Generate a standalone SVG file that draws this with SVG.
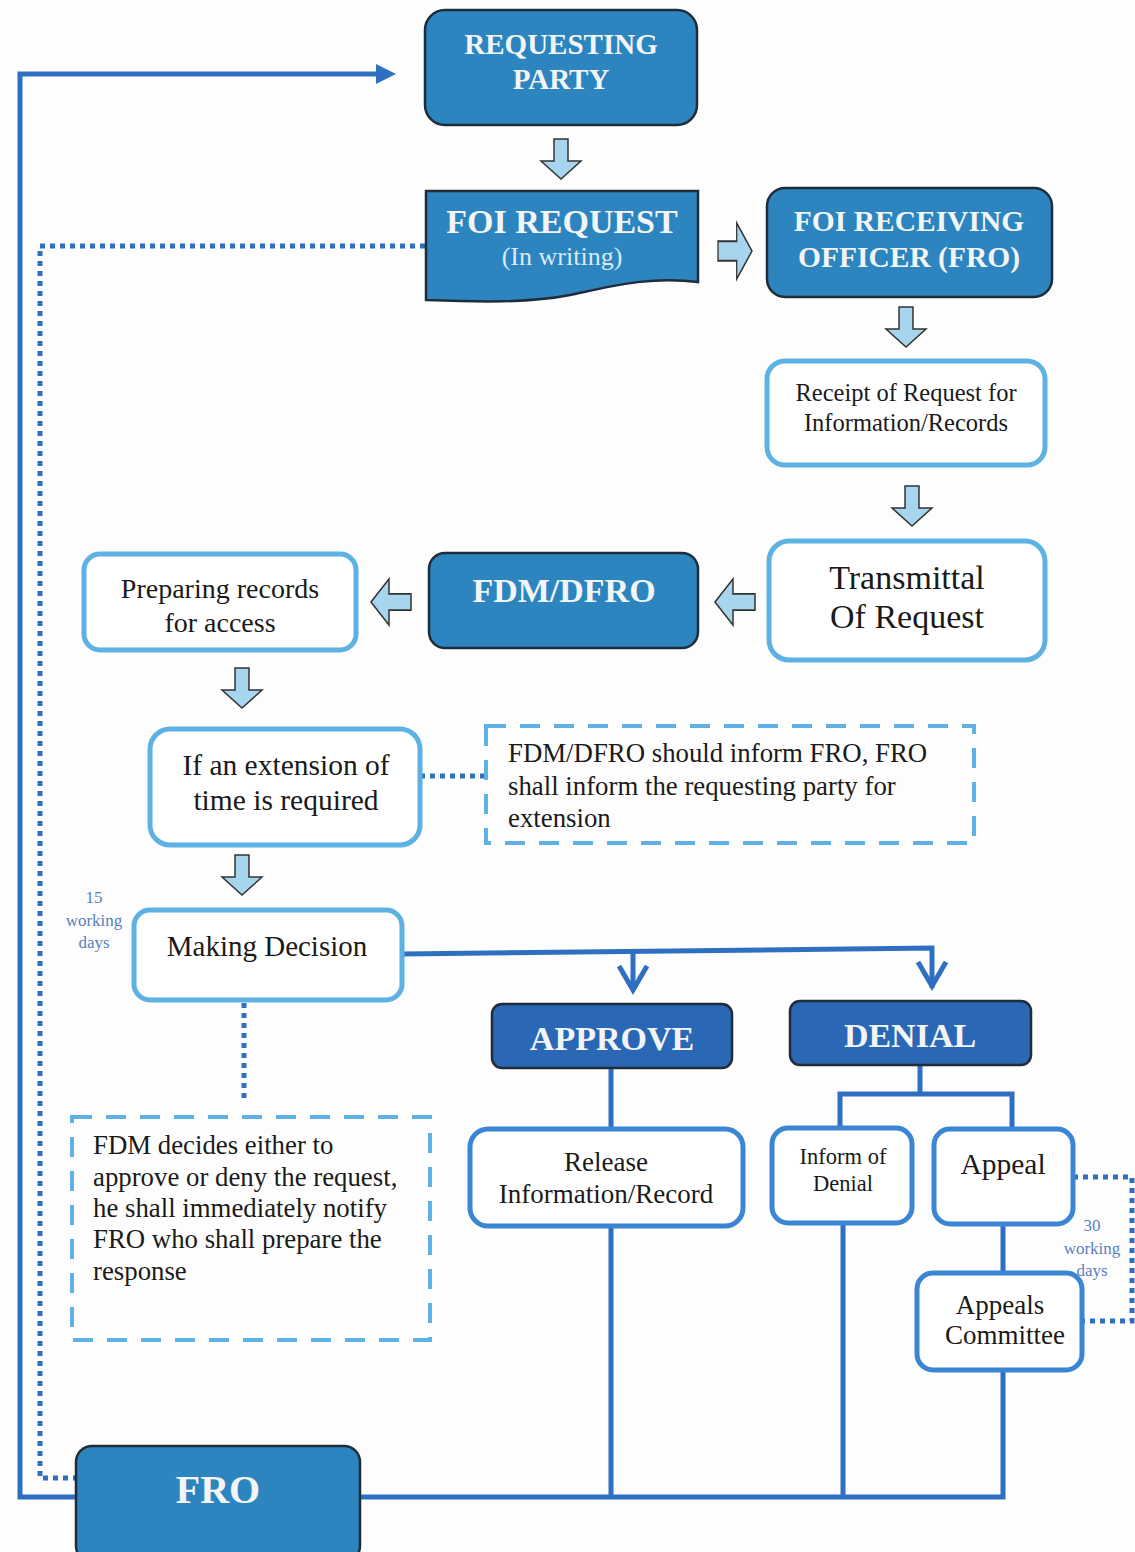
<svg xmlns="http://www.w3.org/2000/svg" width="1135" height="1552" viewBox="0 0 1135 1552">
<style>
.dark{fill:#2c85bf;stroke:#1f2d3a;stroke-width:2.5}
.royal{fill:#2a68b6;stroke:#1f2d3a;stroke-width:2.5}
.light{fill:#ffffff;stroke:#5db2e3;stroke-width:5}
.mid{fill:#ffffff;stroke:#3a85d4;stroke-width:5}
.dash{fill:none;stroke:#5db2e3;stroke-width:4;stroke-dasharray:20 14}
.wt{font-family:"Liberation Serif",serif;font-weight:bold;fill:#f2f4f6;text-anchor:middle}
.bt{font-family:"Liberation Serif",serif;fill:#1a1a1a;text-anchor:middle}
.lt{font-family:"Liberation Serif",serif;fill:#1a1a1a}
.sm{font-family:"Liberation Serif",serif;fill:#5a7fbf;text-anchor:middle;font-size:17px}
.ln{fill:none;stroke:#2f6fc2;stroke-width:5}
.dot{fill:none;stroke:#2f6fc2;stroke-width:5;stroke-dasharray:5 5}
.ba{fill:#a8d5ee;stroke:#333;stroke-width:1.5}
</style>
<defs>
<path id="da" d="M-7,0 H7 V22 H20 L0,40 L-20,22 H-7 Z"/>
</defs>
<rect width="1135" height="1552" fill="#fdfdfd"/>

<g id="connectors">
<path class="ln" d="M1003,1370 V1497 H20 V74 H380"/>
<path d="M376,64 L396,74 L376,84 Z" fill="#2f6fc2"/>
<path class="ln" d="M611,1226 V1497"/>
<path class="ln" d="M843,1223 V1497"/>
<path class="ln" d="M402,954 L932,948 V988"/>
<path class="ln" d="M633,951 V990"/>
<path class="ln" d="M619,966 L633,990 L647,966"/>
<path class="ln" d="M918,962 L932,986 L946,962"/>
<path class="ln" d="M611,1068 V1130"/>
<path class="ln" d="M920,1065 V1094 M840,1128 V1094 H1012 V1128"/>
<path class="ln" d="M1003,1224 V1272"/>
<path class="dot" d="M425,246 H40 V1478 H76"/>
<path class="dot" d="M420,776 H487"/>
<path class="dot" d="M244,1003 V1100"/>
<path class="dot" d="M1073,1177 H1132 V1321 H1082"/>
<use href="#da" class="ba" transform="translate(561,139)"/>
<use href="#da" class="ba" transform="translate(718,251) rotate(-90) scale(1.4,0.85)"/>
<use href="#da" class="ba" transform="translate(906,307)"/>
<use href="#da" class="ba" transform="translate(912,486)"/>
<use href="#da" class="ba" transform="translate(755,602) rotate(90) scale(1.15,1)"/>
<use href="#da" class="ba" transform="translate(411,602) rotate(90) scale(1.15,1)"/>
<use href="#da" class="ba" transform="translate(242,668)"/>
<use href="#da" class="ba" transform="translate(242,855)"/>
</g>

<g id="requesting-party">
<rect class="dark" x="425" y="10" width="272" height="115" rx="20"/>
<text class="wt" x="561" y="54" font-size="29">REQUESTING</text>
<text class="wt" x="561" y="89" font-size="29">PARTY</text>
</g>

<g id="foi-request">
<path class="dark" d="M426,191 H698 V282 C650,276 612,286 570,295 C530,303 480,302 426,300 Z"/>
<text class="wt" x="562" y="233" font-size="34">FOI REQUEST</text>
<text x="562" y="265" font-size="26" font-family="Liberation Serif,serif" fill="#d9e9f5" text-anchor="middle">(In writing)</text>
</g>

<g id="foi-receiving-officer">
<rect class="dark" x="767" y="188" width="285" height="109" rx="18"/>
<text class="wt" x="909" y="231" font-size="29.5">FOI RECEIVING</text>
<text class="wt" x="909" y="267" font-size="29.5">OFFICER (FRO)</text>
</g>

<g id="receipt">
<rect class="light" x="767" y="361" width="278" height="104" rx="18"/>
<text class="bt" x="906" y="401" font-size="24.5">Receipt of Request for</text>
<text class="bt" x="906" y="431" font-size="24.5">Information/Records</text>
</g>

<g id="transmittal">
<rect class="light" x="769" y="541" width="276" height="119" rx="20"/>
<text class="bt" x="907" y="589" font-size="34">Transmittal</text>
<text class="bt" x="907" y="628" font-size="34">Of Request</text>
</g>

<g id="fdm-dfro">
<rect class="dark" x="429" y="553" width="269" height="95" rx="16"/>
<text class="wt" x="564" y="602" font-size="34">FDM/DFRO</text>
</g>

<g id="preparing-records">
<rect class="light" x="84" y="554" width="272" height="96" rx="16"/>
<text class="bt" x="220" y="598" font-size="28">Preparing records</text>
<text class="bt" x="220" y="632" font-size="28">for access</text>
</g>

<g id="extension">
<rect class="light" x="150" y="729" width="270" height="116" rx="20"/>
<text class="bt" x="286" y="775" font-size="29.5">If an extension of</text>
<text class="bt" x="286" y="810" font-size="29.5">time is required</text>
</g>

<g id="extension-note">
<rect class="dash" x="486" y="726" width="488" height="117"/>
<text class="lt" x="508" y="762" font-size="26.8">FDM/DFRO should inform FRO, FRO</text>
<text class="lt" x="508" y="795" font-size="26.8">shall inform the requesting party for</text>
<text class="lt" x="508" y="827" font-size="26.8">extension</text>
</g>

<g id="fifteen-days">
<text class="sm" x="94" y="903">15</text>
<text class="sm" x="94" y="926">working</text>
<text class="sm" x="94" y="948">days</text>
</g>

<g id="making-decision">
<rect class="light" x="134" y="910" width="268" height="90" rx="16"/>
<text class="bt" x="267" y="956" font-size="29">Making Decision</text>
</g>

<g id="fdm-decides-note">
<rect class="dash" x="72" y="1117" width="358" height="223"/>
<text class="lt" x="93" y="1154" font-size="26.8">FDM decides either to</text>
<text class="lt" x="93" y="1186" font-size="26.8">approve or deny the request,</text>
<text class="lt" x="93" y="1217" font-size="26.8">he shall immediately notify</text>
<text class="lt" x="93" y="1248" font-size="26.8">FRO who shall prepare the</text>
<text class="lt" x="93" y="1280" font-size="26.8">response</text>
</g>

<g id="approve">
<rect class="royal" x="492" y="1004" width="240" height="64" rx="10"/>
<text class="wt" x="612" y="1050" font-size="34">APPROVE</text>
</g>

<g id="denial">
<rect class="royal" x="790" y="1001" width="241" height="64" rx="10"/>
<text class="wt" x="910" y="1047" font-size="34">DENIAL</text>
</g>

<g id="release">
<rect class="mid" x="470" y="1129" width="273" height="97" rx="18"/>
<text class="bt" x="606" y="1171" font-size="27">Release</text>
<text class="bt" x="606" y="1203" font-size="27">Information/Record</text>
</g>

<g id="inform-denial">
<rect class="mid" x="772" y="1128" width="140" height="95" rx="16"/>
<text class="bt" x="843" y="1164" font-size="22.5">Inform of</text>
<text class="bt" x="843" y="1191" font-size="22.5">Denial</text>
</g>

<g id="appeal">
<rect class="mid" x="934" y="1129" width="139" height="95" rx="16"/>
<text class="bt" x="1003" y="1174" font-size="29.5">Appeal</text>
</g>

<g id="thirty-days">
<text class="sm" x="1092" y="1231">30</text>
<text class="sm" x="1092" y="1254">working</text>
<text class="sm" x="1092" y="1276">days</text>
</g>

<g id="appeals-committee">
<rect class="mid" x="917" y="1273" width="165" height="97" rx="16"/>
<text class="bt" x="1000" y="1314" font-size="27">Appeals</text>
<text class="bt" x="1005" y="1344" font-size="27">Committee</text>
</g>

<g id="fro">
<rect class="dark" x="76" y="1446" width="284" height="116" rx="16"/>
<text class="wt" x="218" y="1503" font-size="40">FRO</text>
</g>
</svg>
